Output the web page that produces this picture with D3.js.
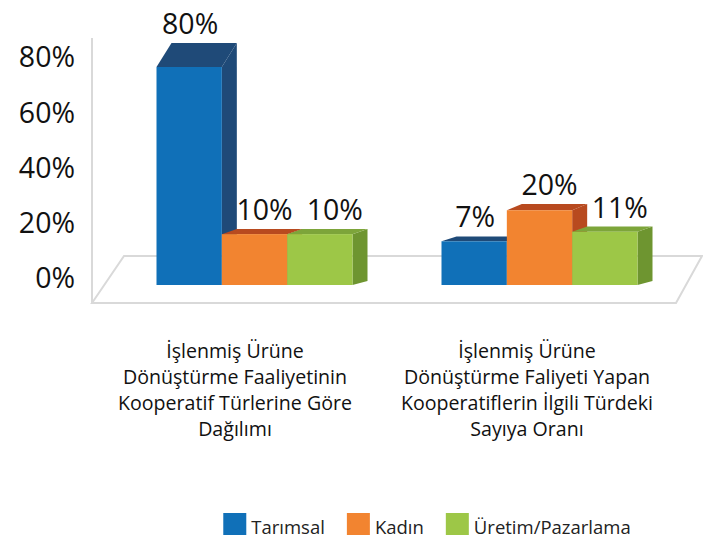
<!DOCTYPE html>
<html>
<head>
<meta charset="utf-8">
<script src="https://cdn.jsdelivr.net/npm/d3@7"></script>
<style>
  html, body { margin: 0; padding: 0; background: #fff; }
  svg { display: block; font-family: "Open Sans", "Noto Sans", sans-serif; }
</style>
</head>
<body>
<svg id="chart" width="703" height="541"></svg>
<script>
// ---- data ----
const categoryLines = [
  ["İşlenmiş Ürüne", "Dönüştürme Faaliyetinin", "Kooperatif Türlerine Göre", "Dağılımı"],
  ["İşlenmiş Ürüne", "Dönüştürme Faliyeti Yapan", "Kooperatiflerin İlgili Türdeki", "Sayıya Oranı"]
];
const seriesNames = ["Tarımsal", "Kadın", "Üretim/Pazarlama"];
const tarimsal = [80, 7];
const kadin = [10, 20];
const uretim = [10, 11];
const yTicks = [0, 20, 40, 60, 80];

const seriesValues = [tarimsal, kadin, uretim];
const colors = {
  front: ["#1070B8", "#F28430", "#9DC747"],
  top:   ["#1F4A78", "#B84A1F", "#7DA53A"],
  side:  ["#1F4A78", "#B84A1F", "#6E9530"]
};
const labelShift = [1, 10, 15];

const svg = d3.select("#chart");
const catIdx = d3.range(categoryLines.length);

// ---- scales ----
const yAxisScale = d3.scaleLinear().domain([0, 80]).range([278, 57]);
const yBar = d3.scaleLinear().domain([0, 80]).range([258, 67]);
const xLabel = d3.scaleBand().domain(catIdx).range([92, 676]);
const xGroup = d3.scaleBand().domain(catIdx).range([112, 682]);
const groupWidth = 196;
const xSub = d3.scaleBand().domain(seriesNames).range([0, groupWidth]);

const barBase = 285;
const depthX = 15;
function depthY(yTop) {
  const t = (barBase - yTop) / (barBase - yBar(80));
  return -(4 + 20 * t * t);
}

// ---- floor / wall ----
const gridColor = "#D9D9D9";
const floorFront = 303, floorBack = 256;
const floorPts = [[92, floorFront], [124, floorBack], [702, floorBack], [676, floorFront]];
svg.append("path")
  .attr("d", d3.line()(floorPts) + "Z")
  .attr("fill", "none")
  .attr("stroke", gridColor)
  .attr("stroke-width", 2);
svg.append("line")
  .attr("x1", 92).attr("x2", 92)
  .attr("y1", 38).attr("y2", floorFront)
  .attr("stroke", gridColor).attr("stroke-width", 2);

// ---- y axis labels ----
svg.append("g").selectAll("text")
  .data(yTicks).join("text")
  .attr("x", 75)
  .attr("y", d => yAxisScale(d))
  .attr("dy", "0.36em")
  .attr("text-anchor", "end")
  .attr("font-size", 28.5)
  .attr("fill", "#111")
  .text(d => d + "%");

// ---- bars ----
const gBars = svg.append("g");
catIdx.forEach(ci => {
  const gx = xGroup(ci) + xGroup.bandwidth() / 2 - groupWidth / 2;
  seriesNames.forEach((s, si) => {
    const v = seriesValues[si][ci];
    const x0 = gx + xSub(s);
    const w = xSub.bandwidth();
    const x1 = x0 + w;
    const yT = yBar(v);
    const d = depthY(yT);
    const g = gBars.append("g");
    g.append("path")
      .attr("d", d3.line()([[x1, barBase], [x1 + depthX, barBase - 4], [x1 + depthX, yT + d], [x1, yT]]) + "Z")
      .attr("fill", colors.side[si]);
    g.append("path")
      .attr("d", d3.line()([[x0, yT], [x0 + depthX, yT + d], [x1 + depthX, yT + d], [x1, yT]]) + "Z")
      .attr("fill", colors.top[si]);
    g.append("rect")
      .attr("x", x0).attr("y", yT)
      .attr("width", w).attr("height", barBase - yT)
      .attr("fill", colors.front[si]);
  });
});

// ---- data labels ----
const gLabels = svg.append("g");
catIdx.forEach(ci => {
  const gx = xGroup(ci) + xGroup.bandwidth() / 2 - groupWidth / 2;
  seriesNames.forEach((s, si) => {
    const v = seriesValues[si][ci];
    const x0 = gx + xSub(s);
    const w = xSub.bandwidth();
    const yT = yBar(v);
    const d = depthY(yT);
    gLabels.append("text")
      .attr("x", x0 + w / 2 + labelShift[si])
      .attr("y", yT + d - 9)
      .attr("text-anchor", "middle")
      .attr("font-size", 28.5)
      .attr("fill", "#111")
      .text(v + "%");
  });
});

// ---- category labels ----
const gCat = svg.append("g");
catIdx.forEach(ci => {
  const cx = xLabel(ci) + xLabel.bandwidth() / 2 - 3;
  gCat.append("g").selectAll("text")
    .data(categoryLines[ci]).join("text")
    .attr("x", cx)
    .attr("y", (d, i) => 358 + i * 26)
    .attr("text-anchor", "middle")
    .attr("font-size", 19.6)
    .attr("fill", "#111")
    .text(d => d);
});

// ---- legend ----
const gLeg = svg.append("g");
let lx = 0;
const items = [];
seriesNames.forEach((s, si) => {
  const it = gLeg.append("g");
  it.append("rect").attr("x", 0).attr("y", 513).attr("width", 23).attr("height", 22).attr("fill", colors.front[si]);
  const t = it.append("text").attr("x", 28).attr("y", 534).attr("font-size", 18.5).attr("fill", "#222").text(s);
  items.push({ g: it, w: 28 + t.node().getComputedTextLength() });
});
const gap = 22;
const total = d3.sum(items, d => d.w) + gap * (items.length - 1);
lx = 427 - total / 2;
items.forEach(it => {
  it.g.attr("transform", `translate(${lx},0)`);
  lx += it.w + gap;
});
</script>
</body>
</html>
